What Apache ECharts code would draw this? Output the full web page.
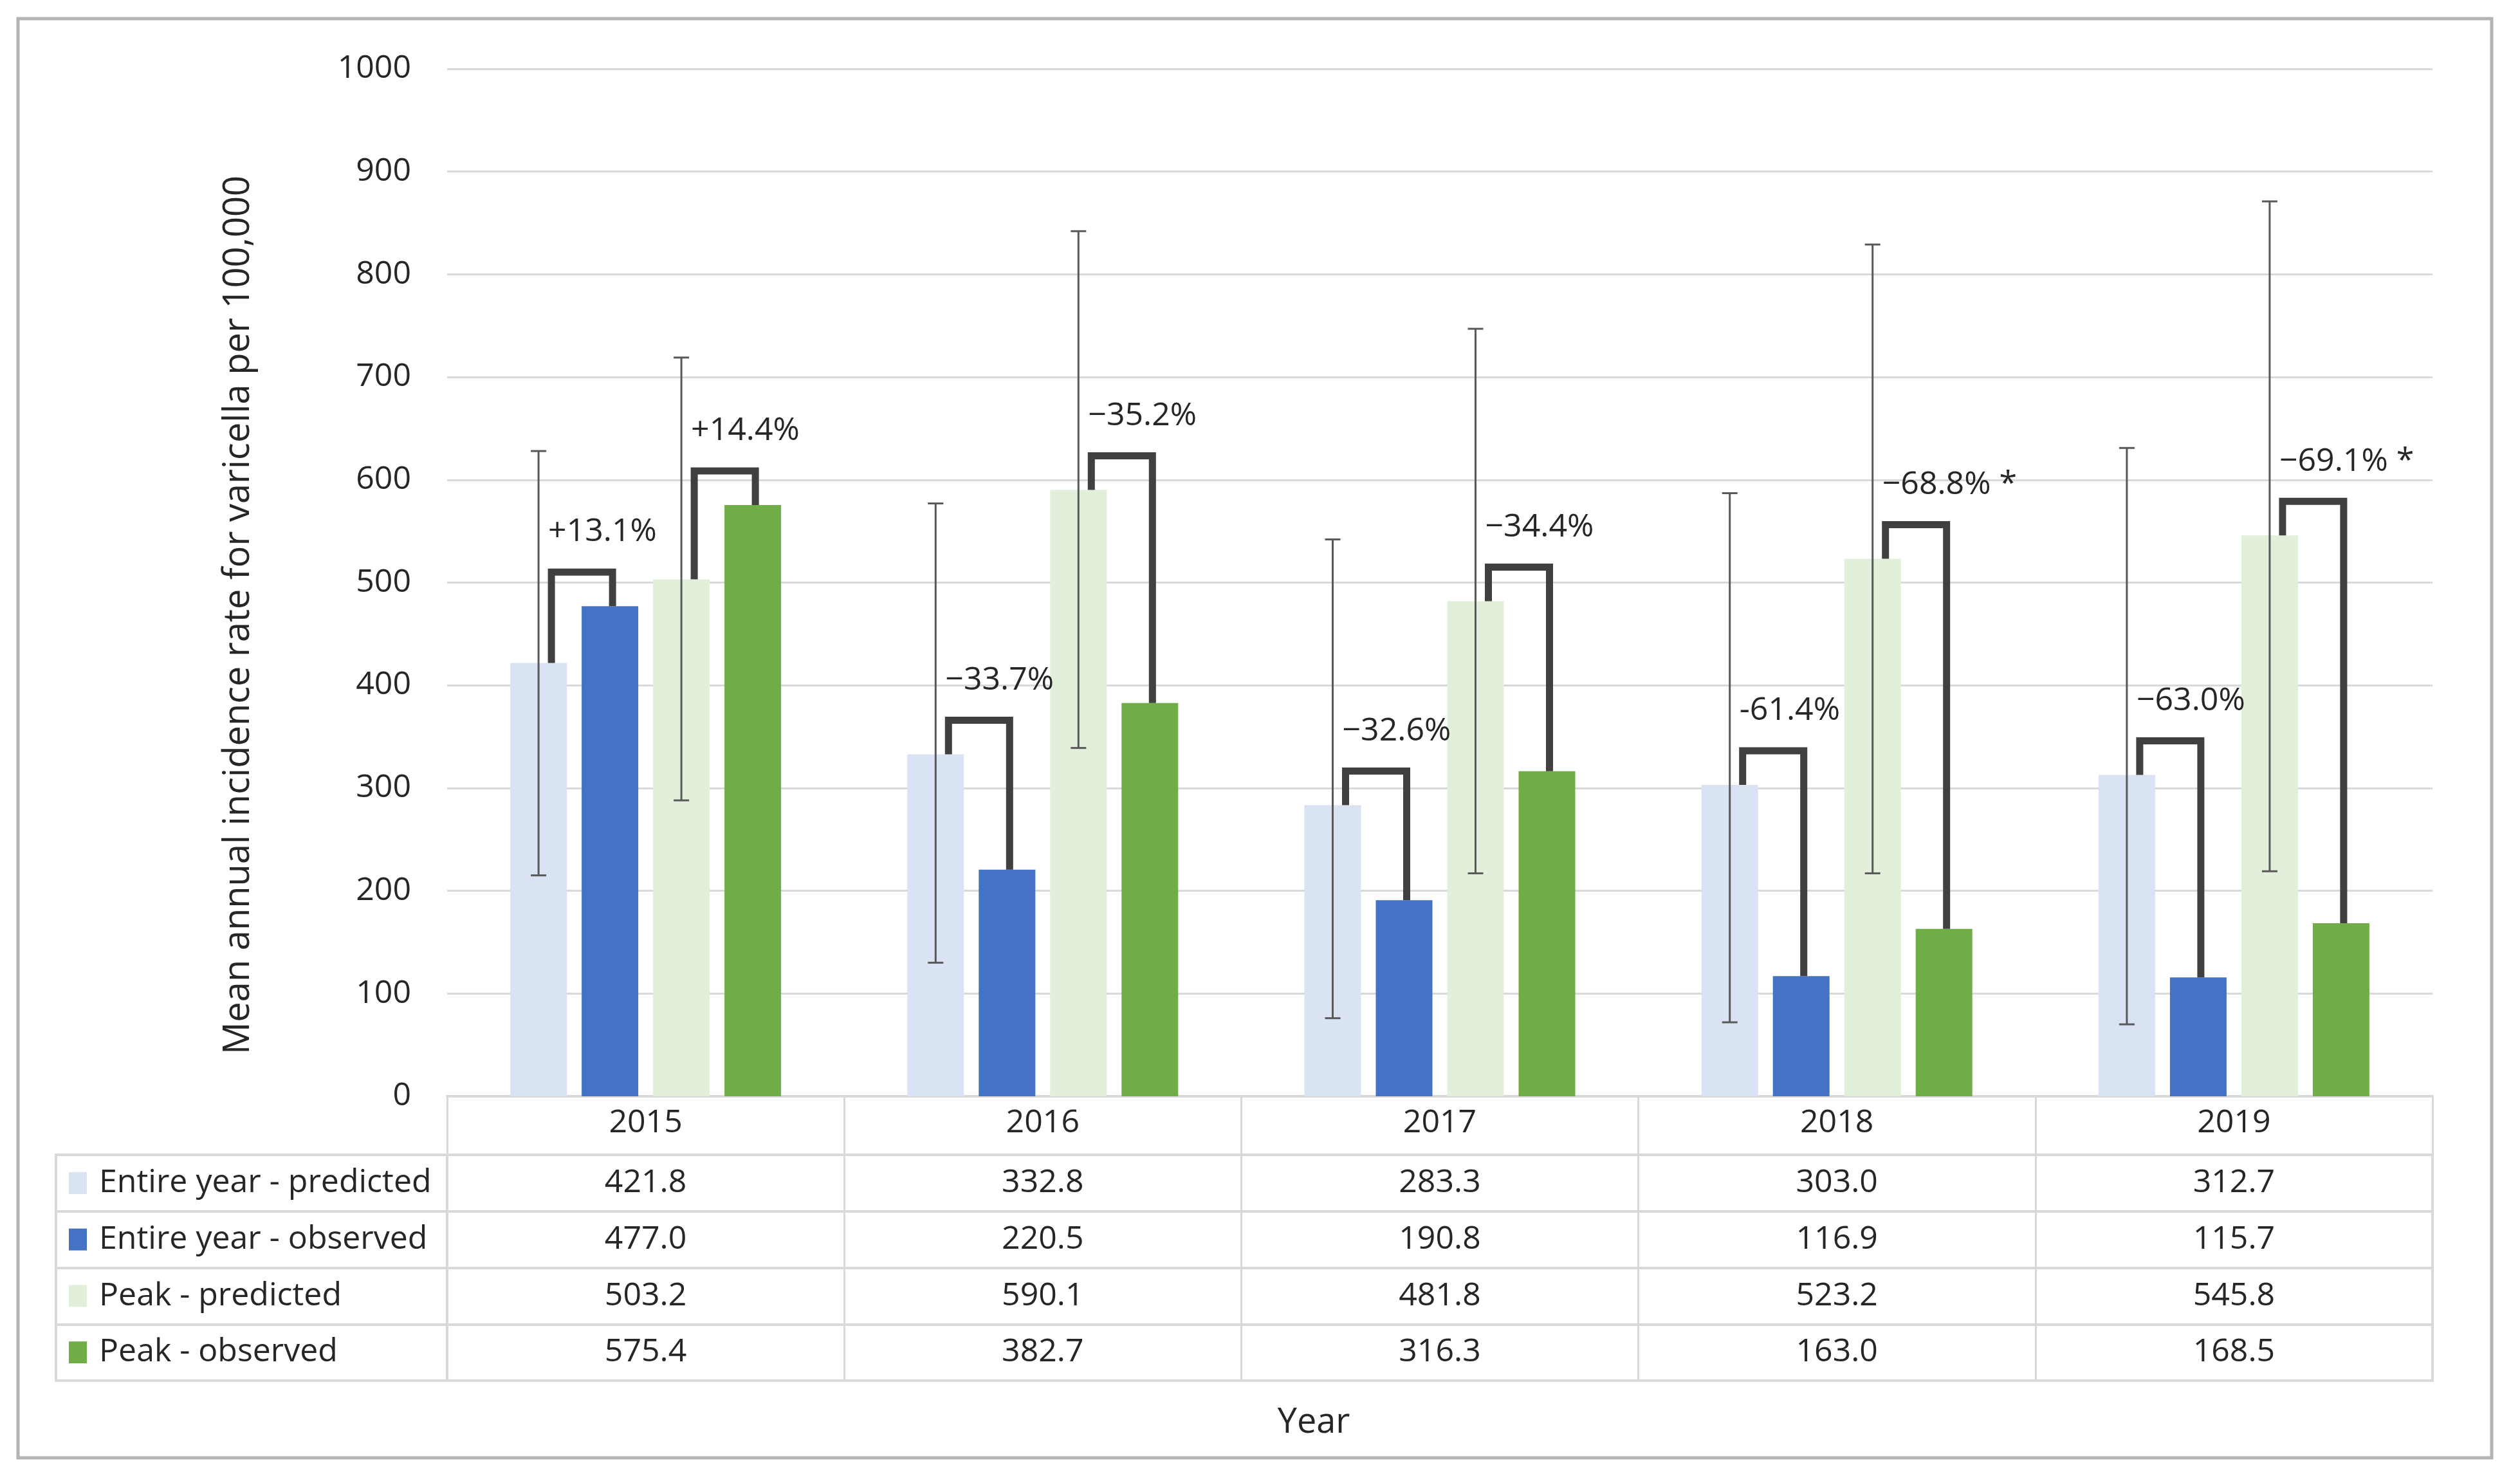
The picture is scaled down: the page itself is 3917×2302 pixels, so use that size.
<!DOCTYPE html>
<html>
<head>
<meta charset="utf-8">
<script src="https://cdn.jsdelivr.net/npm/echarts@6/dist/echarts.min.js"></script>
<style>
html,body{margin:0;padding:0;background:#fff;}
#chart{width:3917px;height:2302px;}
</style>
</head>
<body>
<div id="chart"></div>
<script>
// ---- data ----
const years = ['2015', '2016', '2017', '2018', '2019'];
const seriesNames = ['Entire year - predicted', 'Entire year - observed', 'Peak - predicted', 'Peak - observed'];
const entirePredicted = [421.8, 332.8, 283.3, 303.0, 312.7];
const entireObserved = [477.0, 220.5, 190.8, 116.9, 115.7];
const peakPredicted = [503.2, 590.1, 481.8, 523.2, 545.8];
const peakObserved = [575.4, 382.7, 316.3, 163.0, 168.5];
const entireLow = [215, 130, 76, 72, 70];
const entireHigh = [628, 577, 542, 587, 631];
const peakLow = [288, 339, 217, 217, 219];
const peakHigh = [719, 842, 747, 829, 871];
const entireChange = ['+13.1%', '\u221233.7%', '\u221232.6%', '-61.4%', '\u221263.0%'];
const peakChange = ['+14.4%', '\u221235.2%', '\u221234.4%', '\u221268.8% *', '\u221269.1% *'];
const yMin = 0, yMax = 1000, yStep = 100;
const yTitle = 'Mean annual incidence rate for varicella per 100,000';
const xTitle = 'Year';

// ---- style ----
const FONT = "'Open Sans', 'DejaVu Sans', sans-serif";
const TXT = '#262626';
const GRIDC = '#d9d9d9';
const COLORS = ['#dae3f3', '#4472c4', '#e2efda', '#70ad47'];
const BAR_W = 88, BAR_GAP = 23;
function slotOffset(s) { return (s - 1.5) * (BAR_W + BAR_GAP); }

const allValues = [entirePredicted, entireObserved, peakPredicted, peakObserved];

function errRender(slot) {
  return function (params, api) {
    const i = api.value(0);
    const lo = api.coord([i, api.value(1)]);
    const hi = api.coord([i, api.value(2)]);
    const x = lo[0] + slotOffset(slot);
    const cap = 12;
    const st = { stroke: '#595959', lineWidth: 3 };
    return {
      type: 'group',
      children: [
        { type: 'line', shape: { x1: x, y1: lo[1], x2: x, y2: hi[1] }, style: st },
        { type: 'line', shape: { x1: x - cap, y1: lo[1], x2: x + cap, y2: lo[1] }, style: st },
        { type: 'line', shape: { x1: x - cap, y1: hi[1], x2: x + cap, y2: hi[1] }, style: st }
      ]
    };
  };
}

function bracketRender(slotP, slotO, labels) {
  return function (params, api) {
    const i = api.value(0);
    const p = api.coord([i, api.value(1)]);
    const o = api.coord([i, api.value(2)]);
    const xl = p[0] + slotOffset(slotP) + 20;
    const xr = p[0] + slotOffset(slotO) + 4;
    const top = Math.min(p[1], o[1]) - 53;
    return {
      type: 'group',
      children: [
        {
          type: 'polyline',
          shape: { points: [[xl, p[1]], [xl, top], [xr, top], [xr, o[1]]] },
          style: { stroke: '#404040', lineWidth: 11, fill: null, lineJoin: 'miter', lineCap: 'butt' }
        },
        {
          type: 'text', x: xl - 5, y: top - 62,
          style: { text: labels[params.dataIndex], fill: TXT, fontFamily: FONT, fontSize: 50, align: 'left', verticalAlign: 'middle' }
        }
      ]
    };
  };
}

const tableData = [];
allValues.forEach((arr, r) => arr.forEach((v, i) => tableData.push([i, r, v])));

const rich = { t: { fontFamily: FONT, fontSize: 50, color: TXT, padding: [0, 0, 0, 19] } };
COLORS.forEach((c, k) => { rich['m' + k] = { width: 28, height: 34, backgroundColor: c }; });

const option = {
  backgroundColor: '#ffffff',
  animation: false,
  grid: [
    { left: 695, right: 136, top: 107, bottom: 598 },
    { left: 695, right: 136, top: 1795, bottom: 156, show: true, borderColor: GRIDC, borderWidth: 4, backgroundColor: 'transparent' }
  ],
  xAxis: [
    {
      type: 'category', gridIndex: 0, data: years,
      axisLine: { show: true, lineStyle: { color: GRIDC, width: 4 } },
      axisTick: { show: true, interval: 0, length: 91, lineStyle: { color: GRIDC, width: 3 } },
      axisLabel: { interval: 0, margin: 42, verticalAlign: 'middle', fontFamily: FONT, fontSize: 50, color: TXT },
      splitLine: { show: false }
    },
    {
      type: 'category', gridIndex: 1, data: years,
      axisLine: { show: false }, axisTick: { show: false }, axisLabel: { show: false },
      splitLine: { show: true, interval: 0, lineStyle: { color: GRIDC, width: 3 } }
    }
  ],
  yAxis: [
    {
      type: 'value', gridIndex: 0, min: yMin, max: yMax, interval: yStep,
      axisLine: { show: false }, axisTick: { show: false },
      axisLabel: { margin: 56, fontFamily: FONT, fontSize: 50, color: TXT, formatter: function (v) { return String(v); } },
      splitLine: { show: true, lineStyle: { color: GRIDC, width: 3 } }
    },
    {
      type: 'category', gridIndex: 1, data: seriesNames, inverse: true,
      axisLine: { show: false },
      axisTick: { show: true, interval: 0, length: 608, lineStyle: { color: GRIDC, width: 4 } },
      axisLabel: {
        interval: 0, align: 'left', margin: 588,
        formatter: function (val, idx) { return '{m' + idx + '|}{t|' + val + '}'; },
        rich: rich
      },
      splitLine: { show: true, interval: 0, lineStyle: { color: GRIDC, width: 4 } }
    },
    {
      type: 'category', gridIndex: 1, data: seriesNames, inverse: true, position: 'left', offset: 608,
      axisLine: { show: true, lineStyle: { color: GRIDC, width: 4 } },
      axisTick: { show: false }, axisLabel: { show: false }, splitLine: { show: false }
    }
  ],
  series: [
    ...seriesNames.map((n, k) => ({
      name: n, type: 'bar', xAxisIndex: 0, yAxisIndex: 0,
      data: allValues[k], barWidth: BAR_W, barGap: (BAR_GAP / BAR_W * 100) + '%',
      itemStyle: { color: COLORS[k] }, z: 2
    })),
    {
      type: 'custom', xAxisIndex: 0, yAxisIndex: 0, z: 5,
      renderItem: errRender(0), encode: { x: 0, y: [1, 2] },
      data: years.map((y, i) => [i, entireLow[i], entireHigh[i]])
    },
    {
      type: 'custom', xAxisIndex: 0, yAxisIndex: 0, z: 5,
      renderItem: errRender(2), encode: { x: 0, y: [1, 2] },
      data: years.map((y, i) => [i, peakLow[i], peakHigh[i]])
    },
    {
      type: 'custom', xAxisIndex: 0, yAxisIndex: 0, z: 6,
      renderItem: bracketRender(0, 1, entireChange), encode: { x: 0, y: [1, 2] },
      data: years.map((y, i) => [i, entirePredicted[i], entireObserved[i]])
    },
    {
      type: 'custom', xAxisIndex: 0, yAxisIndex: 0, z: 6,
      renderItem: bracketRender(2, 3, peakChange), encode: { x: 0, y: [1, 2] },
      data: years.map((y, i) => [i, peakPredicted[i], peakObserved[i]])
    },
    {
      type: 'custom', xAxisIndex: 1, yAxisIndex: 1, z: 6,
      renderItem: function (params, api) {
        const pt = api.coord([api.value(0), api.value(1)]);
        return {
          type: 'text', x: pt[0], y: pt[1],
          style: { text: api.value(2).toFixed(1), fill: TXT, fontFamily: FONT, fontSize: 50, align: 'center', verticalAlign: 'middle' }
        };
      },
      encode: { x: 0, y: 1 },
      data: tableData
    }
  ],
  graphic: [
    { type: 'rect', shape: { x: 28, y: 29, width: 3845, height: 2237 }, style: { fill: null, stroke: '#b4b4b4', lineWidth: 5 }, z: 0 },
    { type: 'text', x: 371, y: 956, rotation: Math.PI / 2,
      style: { text: yTitle, fill: TXT, fontFamily: FONT, fontSize: 56, align: 'center', verticalAlign: 'middle' } },
    { type: 'text', x: 2042, y: 2212,
      style: { text: xTitle, fill: TXT, fontFamily: FONT, fontSize: 54, align: 'center', verticalAlign: 'middle' } }
  ]
};

const chart = echarts.init(document.getElementById('chart'), null, { renderer: 'canvas' });
chart.setOption(option);
</script>
</body>
</html>
